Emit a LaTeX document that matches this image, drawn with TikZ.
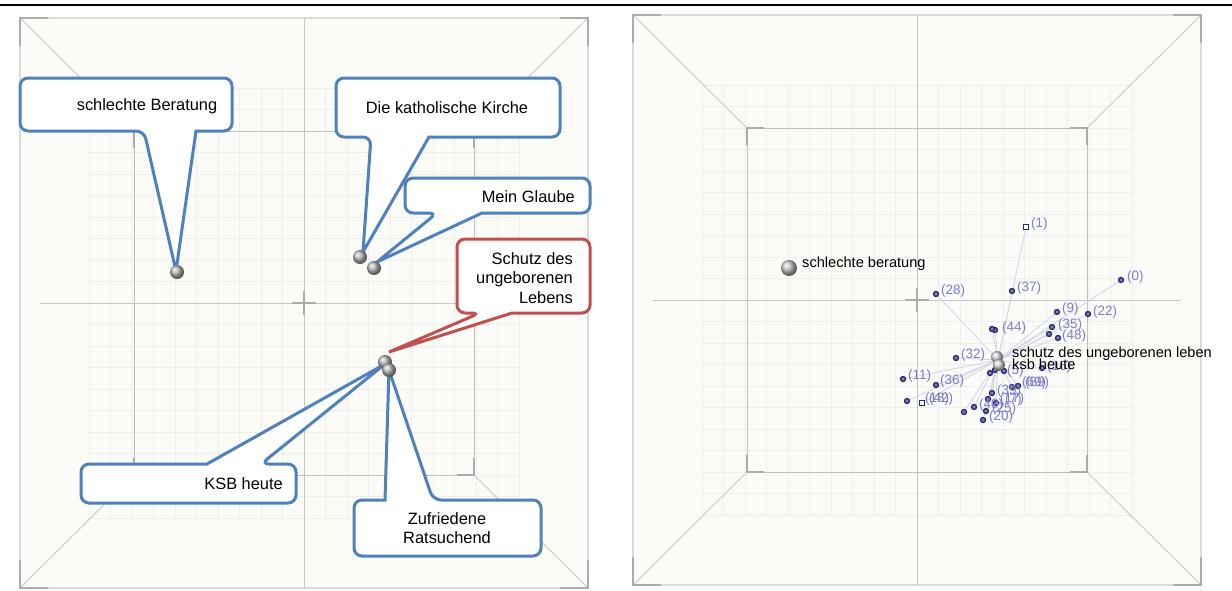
\documentclass[tikz,border=0pt]{standalone}
\usepackage{fontspec}
\setmainfont{Liberation Sans}
\definecolor{callblue}{RGB}{79,129,189}
\definecolor{callred}{RGB}{192,80,77}
\definecolor{panelbg}{RGB}{251,251,248}
\definecolor{dotblue}{RGB}{38,38,115}
\definecolor{numblue}{RGB}{125,125,205}
\definecolor{rayblue}{RGB}{212,215,232}
\tikzset{
  frame line/.style={gray!28,line width=1.2},
  diag line/.style={gray!40,line width=1},
  inner line/.style={gray!50,line width=1},
  axis line/.style={gray!45,line width=1},
  grid line/.style={gray!13,line width=0.7},
  bracket/.style={gray!65,line width=2.2},
  callout blue/.style={draw=callblue,line width=3,fill=white},
  callout red/.style={draw=callred,line width=3,fill=white},
  call text/.style={font=\fontsize{16.4}{19.5}\selectfont,inner sep=0},
  node sphere/.style={circle,inner sep=0,minimum size=14,ball color=gray!55},
  ray/.style={rayblue,line width=0.9},
  dot/.style={circle,draw=dotblue,line width=1.3,fill=dotblue!60,inner sep=0,minimum size=5},
  sqdot/.style={draw=dotblue,fill=white,line width=1.2,inner sep=0,minimum size=5.5},
  num label/.style={text=numblue,font=\fontsize{13.5}{14}\selectfont,anchor=west,inner sep=0},
  plot label/.style={font=\fontsize{14.6}{16}\selectfont,anchor=west,inner sep=0}
}
% 3d view box around a centre
\newcommand{\viewbox}[2]{%
  \begin{scope}[shift={(#1,#2)}]
    \fill[panelbg] (-284,-285) rectangle (284,285);
    \foreach \i in {0,...,20} {
      \draw[grid line] (-215+21.5*\i,-215) -- (-215+21.5*\i,215);
      \draw[grid line] (-215,-215+21.5*\i) -- (215,-215+21.5*\i);
    }
    \draw[frame line] (-284,-285) rectangle (284,285);
    \draw[diag line] (-284,-285) -- (-170,-172) (284,-285) -- (170,-172)
                     (-284,285) -- (-170,172) (284,285) -- (170,172);
    \draw[inner line] (-170,-172) rectangle (170,172);
    \draw[axis line] (0,-285) -- (0,285) (-264,0) -- (264,0);
    \draw[bracket] (-12,0) -- (12,0) (0,-12) -- (0,12);
    \foreach \sx in {-1,1} {
      \foreach \sy in {-1,1} {
        \draw[bracket] (\sx*256,\sy*285) -- (\sx*284,\sy*285) -- (\sx*284,\sy*257);
        \draw[bracket] (\sx*153,\sy*172) -- (\sx*170,\sy*172) -- (\sx*170,\sy*155);
      }
    }
  \end{scope}}
% callout: style, x1, y1, x2, y2, wedge base from, to, tip
\newcommand{\calloutbelow}[8]{%
  \draw[#1] (#7,#5) [rounded corners=8] -- (#4,#5) -- (#4,#3) -- (#2,#3) -- (#2,#5) -- (#6,#5)
    [sharp corners] -- (#8) -- cycle;}
\newcommand{\calloutabove}[8]{%
  \draw[#1] (#6,#3) [rounded corners=8] -- (#2,#3) -- (#2,#5) -- (#4,#5) -- (#4,#3) -- (#7,#3)
    [sharp corners] -- (#8) -- cycle;}

\begin{document}
\begin{tikzpicture}[x=1pt,y=-1pt]
\useasboundingbox (0,0) rectangle (1232,590);
\fill[white] (0,0) rectangle (1232,590);
\draw[line width=2] (0,5) -- (627,5);
\draw[line width=1.2] (627,5) -- (1232,5);
\draw[line width=2] (1216,5) -- (1232,5);

\viewbox{304}{303}
\viewbox{917}{300}

% left view: callouts
\coordinate (pB) at (176,271);
\coordinate (pK) at (363,252);
\coordinate (pG) at (377,262);
\coordinate (pS) at (389,352);
\coordinate (pH) at (385,364);
\coordinate (pZ) at (389,370);
\calloutbelow{callout blue}{20}{78}{232}{131}{144}{196}{pB}
\calloutbelow{callout blue}{336}{78}{560}{137}{371}{429}{pK}
\calloutbelow{callout blue}{405}{178}{590}{213}{437}{482}{pG}
\calloutbelow{callout red}{457}{239}{590}{313}{480}{512}{pS}
\calloutabove{callout blue}{81}{464}{296}{503}{207}{261}{pH}
\calloutabove{callout blue}{354}{500}{541}{556}{385}{433}{pZ}

\node[call text] (tB) at (147,106) {schlechte Beratung};
\node[call text] (tK) at (447,108) {Die katholische Kirche};
\node[call text,anchor=east] (tG) at (575,197) {Mein Glaube};
\node[call text,align=right,anchor=east] (tS) at (573,278) {Schutz des\\ungeborenen\\Lebens};
\node[call text,anchor=east] (tH) at (283,484) {KSB heute};
\node[call text,align=center] (tZ) at (447,528) {Zufriedene\\Ratsuchend};

\node[node sphere] (sB) at (177,272) {};
\node[node sphere] (sK) at (360,257) {};
\node[node sphere] (sG) at (374,268) {};
\node[node sphere] (sS) at (385,362) {};
\node[node sphere] (sZ) at (389,370) {};

% right view: scores
\coordinate (hub) at (998,360);
\def\markerlist{0/1121/280/dot, 1/1026/227/sqdot, 28/936/294/dot, 37/1012/291/dot,
  9/1057/312/dot, 22/1088/314/dot, 35/1052/327/dot, a/1049/334/dot, 48/1058/338/dot,
  44/995/330/dot, b/992/329/dot, 32/956/358/dot, 11/903/379/dot, 36/936/385/dot,
  18/907/401/dot, 42/922/403/sqdot, 5/990/373/dot, c/995/370/dot, d/1004/371/dot,
  16/1042/368/dot, 69/1012/387/dot, 89/1018/386/dot, 39/992/393/dot, 17/988/399/dot,
  7/996/403/dot, 40/974/407/dot, 25/986/411/dot, 20/983/420/dot, e/964/412/dot}
\foreach \n/\mx/\my/\st in \markerlist
  \coordinate (m\n) at (\mx,\my);
\foreach \n/\mx/\my/\st in \markerlist
  \draw[ray] (hub) -- (m\n);
\foreach \n/\mx/\my/\st in \markerlist
  \node[\st] (d\n) at (m\n) {};
\foreach \lab/\lx/\ly in {0/1127/277, 1/1031/224, 28/941/291, 37/1017/288, 9/1062/309,
  22/1093/312, 35/1058/325, 48/1062/336, 44/1002/328, 32/961/355, 11/908/376,
  36/940/381, 18/925/399, 42/929/399, 5/1007/371, 16/1047/367, 69/1022/383,
  89/1025/383, 39/997/391, 17/1000/399, 7/1005/400, 40/979/405, 25/992/409, 20/989/417}
  \node[num label] (n\lab) at (\lx,\ly) {(\lab)};

\node[node sphere,minimum size=16,ball color=gray!45] (rB) at (789,268) {};
\node[plot label] (lB) at (802,264) {schlechte beratung};
\node[node sphere,minimum size=12,ball color=gray!30] (rS) at (997,357) {};
\node[node sphere,minimum size=12,ball color=gray!30] (rH) at (999,365) {};
\node[plot label] (lS) at (1012,354) {schutz des ungeborenen leben};
\node[plot label] (lH) at (1012,364) {ksb heute};
\end{tikzpicture}
\end{document}
